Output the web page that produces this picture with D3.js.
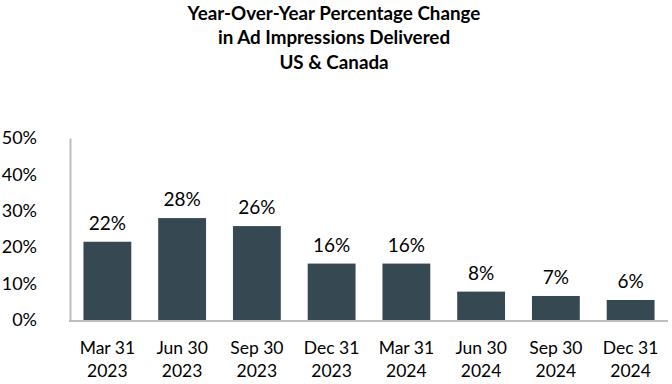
<!DOCTYPE html>
<html>
<head>
<meta charset="utf-8">
<script src="https://cdn.jsdelivr.net/npm/d3@7"></script>
<style>
  body { margin: 0; background: #fff; }
  svg text { font-family: Lato, "Open Sans", sans-serif; fill: #000; }
</style>
</head>
<body>
<script>
var titleLines = ['Year-Over-Year Percentage Change', 'in Ad Impressions Delivered', 'US & Canada'],
  categories = ['Mar 31|2023', 'Jun 30|2023', 'Sep 30|2023', 'Dec 31|2023', 'Mar 31|2024', 'Jun 30|2024', 'Sep 30|2024', 'Dec 31|2024'],
  values = [21.5, 28.0, 25.8, 15.5, 15.5, 7.8, 6.6, 5.5],
  valueLabels = ['22%', '28%', '26%', '16%', '16%', '8%', '7%', '6%'],
  yTicks = [0, 10, 20, 30, 40, 50];

var width = 672,
  height = 384,
  barColor = '#364852',
  axisColor = '#bdbdbd',
  svg = d3.select('body').append('svg').attr('width', width).attr('height', height),
  x = d3.scaleBand().domain(categories).range([70, 668]).paddingInner(0.36).paddingOuter(0.18),
  y = d3.scaleLinear().domain([0, 50]).range([320, 138]);

// title
svg.append('g').selectAll('text')
  .data(titleLines)
  .enter().append('text')
  .attr('x', 334)
  .attr('y', function(d, i) { return 19.5 + i * 24.5; })
  .attr('text-anchor', 'middle')
  .style('font-weight', 'bold')
  .style('font-size', '18.8px')
  .text(function(d) { return d; });

// y axis: labels only plus the vertical line
var yAxis = svg.append('g')
  .attr('transform', 'translate(70,0)')
  .call(d3.axisLeft(y).tickValues(yTicks).tickSize(0).tickPadding(33).tickFormat(function(d) { return d + '%'; }));
yAxis.select('.domain').attr('stroke', axisColor).attr('stroke-width', 2);
yAxis.selectAll('.tick text').style('font-size', '18px').attr('fill', '#000');

// bars
svg.append('g').selectAll('rect')
  .data(values)
  .enter().append('rect')
  .attr('x', function(d, i) { return x(categories[i]); })
  .attr('y', function(d) { return y(d); })
  .attr('width', x.bandwidth())
  .attr('height', function(d) { return y(0) - y(d); })
  .attr('fill', barColor);

// value labels
svg.append('g').selectAll('text')
  .data(values)
  .enter().append('text')
  .attr('x', function(d, i) { return x(categories[i]) + x.bandwidth() / 2; })
  .attr('y', function(d) { return y(d) - 12; })
  .attr('text-anchor', 'middle')
  .style('font-size', '19px')
  .text(function(d, i) { return valueLabels[i]; });

// baseline
svg.append('line')
  .attr('x1', 69).attr('x2', 668)
  .attr('y1', y(0) + 1).attr('y2', y(0) + 1)
  .attr('stroke', axisColor)
  .attr('stroke-width', 2);

// x labels, two lines each
var xLabels = svg.append('g').selectAll('text')
  .data(categories)
  .enter().append('text')
  .attr('text-anchor', 'middle')
  .style('font-size', '17.5px');
xLabels.append('tspan')
  .attr('x', function(d) { return x(d) + x.bandwidth() / 2; })
  .attr('y', 354)
  .text(function(d) { return d.split('|')[0]; });
xLabels.append('tspan')
  .attr('x', function(d) { return x(d) + x.bandwidth() / 2; })
  .attr('y', 377)
  .text(function(d) { return d.split('|')[1]; });
</script>
</body>
</html>
